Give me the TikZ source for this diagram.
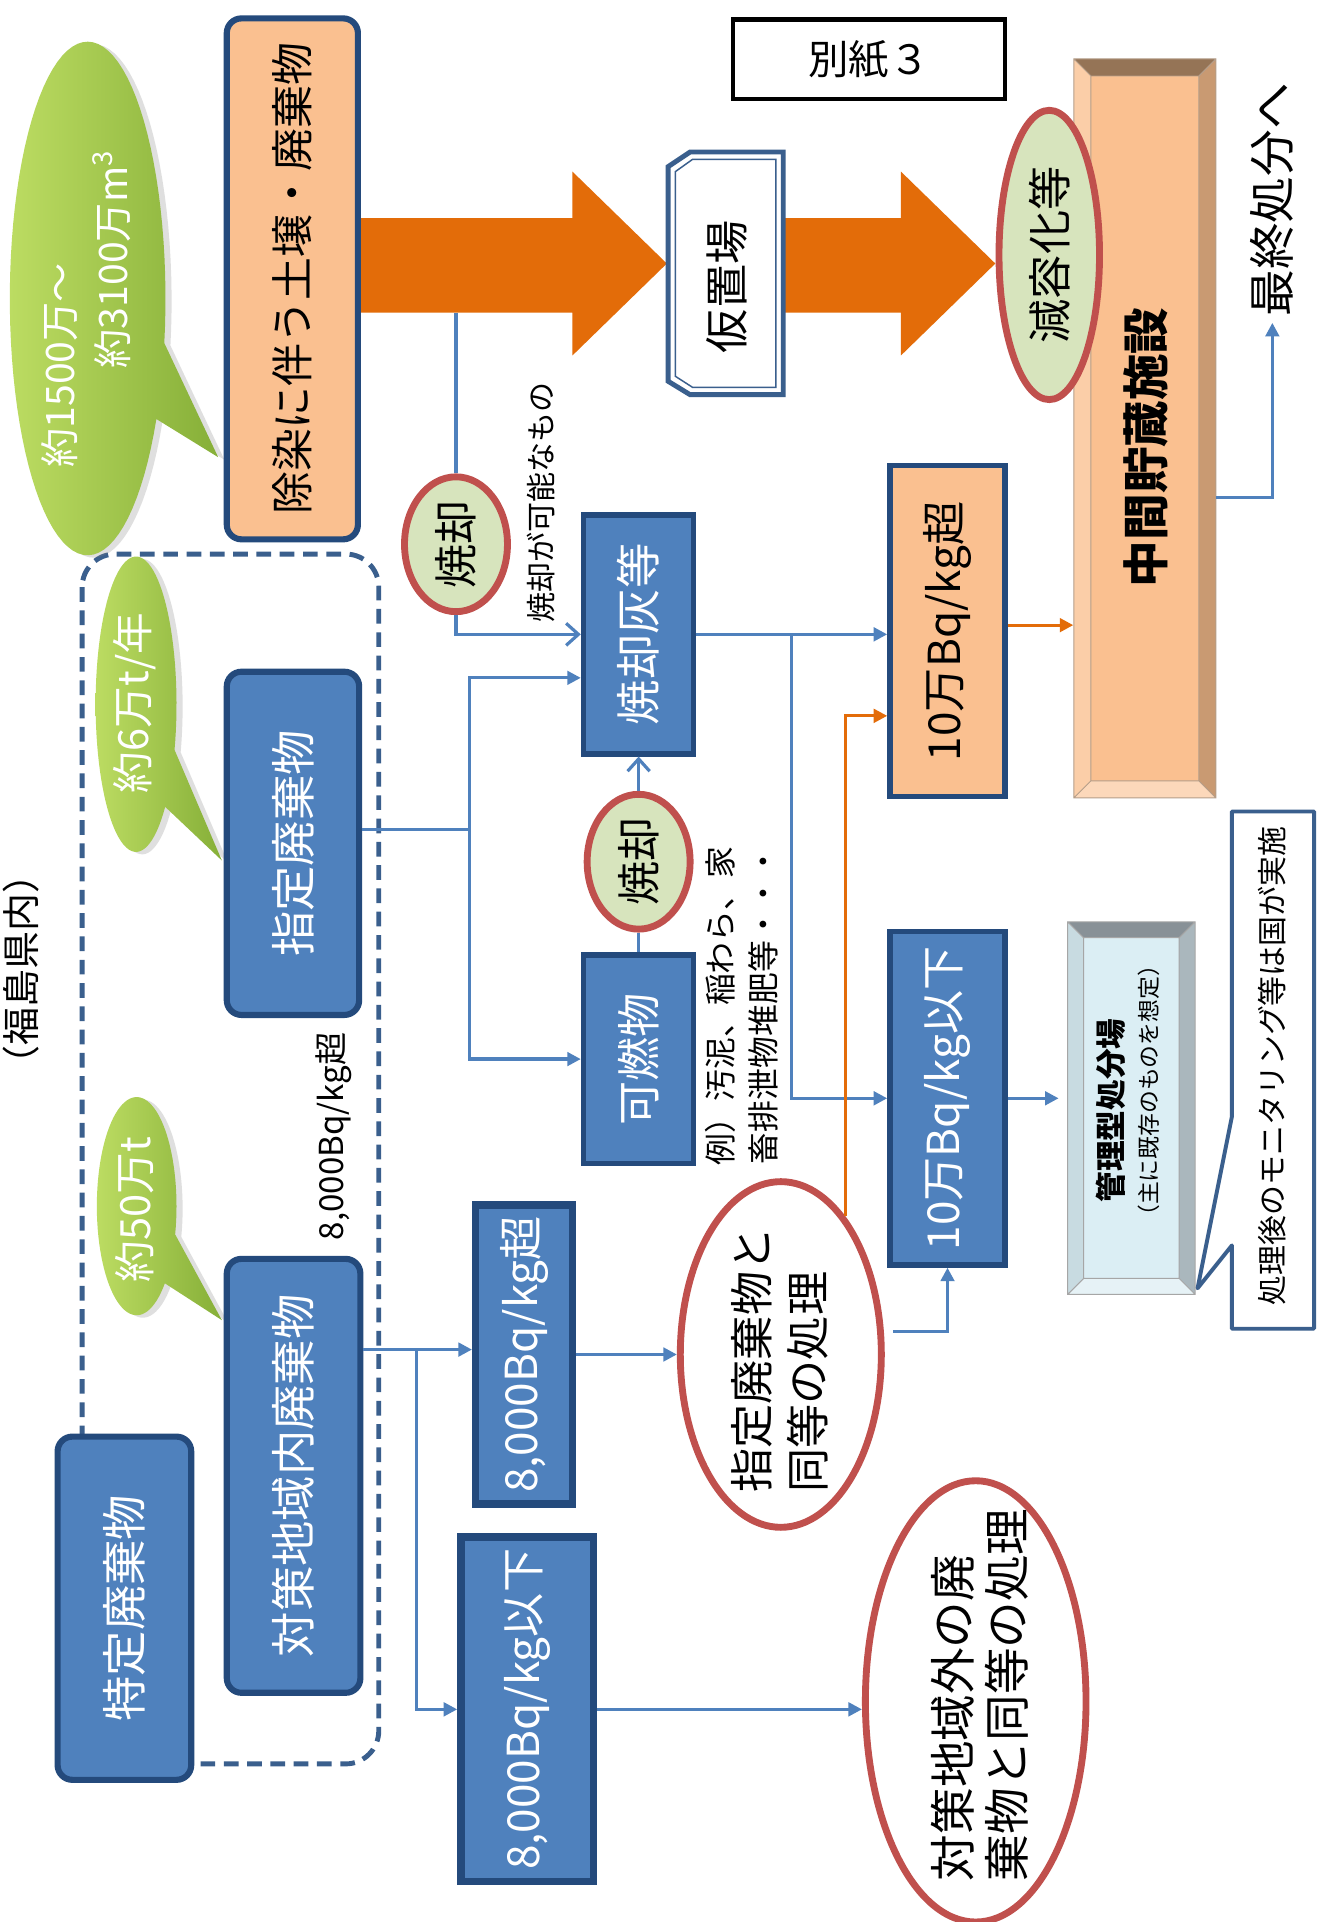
\documentclass[tikz,border=0pt]{standalone}
\usepackage{fontspec}
\setmainfont{Noto Sans CJK JP}
\usepackage{graphicx}
\usetikzlibrary{arrows.meta,shadows,shapes.geometric}
\definecolor{boxblue}{HTML}{4F81BD}
\definecolor{darkblue}{HTML}{244A7C}
\definecolor{peach}{HTML}{FAC090}
\definecolor{orangeA}{HTML}{E36C09}
\definecolor{redline}{HTML}{C0504D}
\definecolor{palegreen}{HTML}{D7E4BD}
\definecolor{dashblue}{HTML}{3A5F8D}
\definecolor{lineblue}{HTML}{4F81BD}
\definecolor{greenL}{HTML}{BCDC62}
\definecolor{greenD}{HTML}{86AF38}
\definecolor{bevtop}{HTML}{957456}
\definecolor{bevleft}{HTML}{FBCEA8}
\definecolor{bevright}{HTML}{C99A72}
\definecolor{bevbot}{HTML}{FCD8BA}
\definecolor{kface}{HTML}{DBEEF4}
\definecolor{ktop}{HTML}{889197}
\definecolor{kleft}{HTML}{C8DBE1}
\definecolor{kright}{HTML}{AAB7BD}
\definecolor{kbot}{HTML}{E6F2F6}
\newcommand{\rtext}[1]{\rotatebox{90}{#1}}
\newcommand{\fsz}[1]{\fontsize{#1pt}{#1pt}\selectfont}
\begin{document}
\begin{tikzpicture}[x=0.5pt,y=-0.5pt,
  rbox/.style={draw=darkblue, line width=2.5pt, rounded corners=6pt, fill=boxblue, text=white, inner sep=0pt},
  sbox/.style={draw=darkblue, line width=2.2pt, fill=boxblue, text=white, inner sep=0pt},
  redell/.style={ellipse, draw=redline, line width=2.8pt, inner sep=0pt},
  txt/.style={inner sep=0pt},
  conn/.style={draw=lineblue, line width=1.3pt},
  oconn/.style={draw=orangeA, line width=1.3pt},
  tri/.style={-{Triangle[length=5.5pt,width=5.5pt]}},
  barb/.style={-{Straight Barb[length=5pt,width=9pt]}},
  callout/.style={left color=greenL, right color=greenD, draw=none,
     drop shadow={opacity=0.25, shadow xshift=2.5pt, shadow yshift=-1pt}},
  ghost/.style={draw=none, fill=none, inner sep=0pt}
]
\useasboundingbox (0,0) rectangle (1074,1568);
\fill[white] (0,0) rectangle (1074,1568);

% dashed area
\draw[draw=dashblue, line width=2pt, dash pattern=on 6pt off 3.5pt, rounded corners=13.5pt] (67,452) rectangle (309,1439);

% green callouts
\path[callout] (178,373) -- plot[domain=10:-332, samples=90] ({71.5+63.5*cos(\x)},{243.5+209.5*sin(\x)}) -- cycle;
\path[callout] (181,702) -- plot[domain=18:-316, samples=90] ({111+33*cos(\x)},{574.5+120.5*sin(\x)}) -- cycle;
\path[callout] (181,1077) -- plot[domain=15:-315, samples=90] ({111.5+32.5*cos(\x)},{984+89*sin(\x)}) -- cycle;
\node[txt, anchor=south, text=white] (c1a) at (49,382) {\fsz{16}\rtext{約1500万～}};
\node[txt, anchor=south, text=white] (c1b) at (91,301) {\fsz{16}\rtext{約3100万m\textsuperscript{3}}};
\node[txt, text=white] (c2) at (110,573.5) {\fsz{17}\rtext{約6万t/年}};
\node[txt, text=white] (c3) at (110,987) {\fsz{17}\rtext{約50万t}};

% orange big arrows
\fill[orangeA] (292,178) -- (467,178) -- (467,140) -- (544,215) -- (467,290) -- (467,255) -- (292,255) -- cycle;
\fill[orangeA] (638,178) -- (735,178) -- (735,140) -- (812,215) -- (735,290) -- (735,255) -- (638,255) -- cycle;

% temporary storage (snipped box)
\draw[draw=dashblue, line width=2pt, fill=white] (563,124) -- (639,124) -- (639,322) -- (563,322) -- (545,311) -- (545,136) -- cycle;
\draw[draw=dashblue, line width=0.6pt] (565,130) -- (633,130) -- (633,316) -- (565,316) -- (551,307) -- (551,140) -- cycle;
\node[ghost, minimum width=47pt, minimum height=99pt] (kari) at (592,223) {};
\node[txt] (kariT) at (593,234) {\fsz{18}\rtext{仮置場}};

% interim storage facility (bevel)
\node[ghost, minimum width=58pt, minimum height=301.5pt] (chukan) at (934,349.5) {};
\fill[peach] (890,62) rectangle (978,637);
\fill[bevtop] (876,48) -- (992,48) -- (978,62) -- (890,62) -- cycle;
\fill[bevleft] (876,48) -- (890,62) -- (890,637) -- (876,651) -- cycle;
\fill[bevright] (992,48) -- (992,651) -- (978,637) -- (978,62) -- cycle;
\fill[bevbot] (876,651) -- (992,651) -- (978,637) -- (890,637) -- cycle;
\draw[draw=bevtop!70, line width=0.4pt] (876,48) rectangle (992,651) (890,62) rectangle (978,637)
  (876,48) -- (890,62) (992,48) -- (978,62) (876,651) -- (890,637) (992,651) -- (978,637);
\node[txt] (chukanT) at (935,365) {\fsz{19}\bfseries\rtext{中間貯蔵施設}};

% managed disposal site (bevel)
\node[ghost, minimum width=52pt, minimum height=152pt] (kanri) at (923,904) {};
\fill[kface] (884,765) rectangle (962,1043);
\fill[ktop] (871,752) -- (975,752) -- (962,765) -- (884,765) -- cycle;
\fill[kleft] (871,752) -- (884,765) -- (884,1043) -- (871,1056) -- cycle;
\fill[kright] (975,752) -- (975,1056) -- (962,1043) -- (962,765) -- cycle;
\fill[kbot] (871,1056) -- (975,1056) -- (962,1043) -- (884,1043) -- cycle;
\draw[draw=gray!70, line width=0.4pt] (871,752) rectangle (975,1056) (884,765) rectangle (962,1043)
  (871,752) -- (884,765) (975,752) -- (962,765) (871,1056) -- (884,1043) (975,1056) -- (962,1043);
\node[txt] (kanriT1) at (906,906) {\fsz{12.5}\bfseries\rtext{管理型処分場}};
\node[txt] (kanriT2) at (937,890) {\fsz{9.3}\rtext{（主に既存のものを想定）}};

% monitoring callout
\draw[draw=dashblue, line width=1.6pt, fill=white, line join=round] (1005,662) -- (1072,662) -- (1072,1084) -- (1005,1084) -- (1005,1016) -- (977,1051) -- (1005,911) -- cycle;
\node[txt] (monT) at (1038,869.5) {\fsz{12.2}\rtext{処理後のモニタリング等は国が実施}};

% label box
\node[draw=black, line width=1.75pt, minimum width=111pt, minimum height=32.5pt, inner sep=0pt] (betsushi) at (709,48.5) {\fsz{16.5}別紙３};

% main boxes
\node[rbox, fill=peach, text=black, minimum width=53.5pt, minimum height=212.5pt] (jojo) at (238.5,227.5) {\fsz{17.5}\rtext{除染に伴う土壌・廃棄物}};
\node[rbox, minimum width=54pt, minimum height=140pt] (shitei) at (239,688) {\fsz{18.5}\rtext{指定廃棄物}};
\node[rbox, minimum width=54.5pt, minimum height=177pt] (taisaku) at (239.5,1204) {\fsz{18.5}\rtext{対策地域内廃棄物}};
\node[rbox, minimum width=54.5pt, minimum height=140pt] (tokutei) at (101.5,1312) {\fsz{18.5}\rtext{特定廃棄物}};
\node[sbox, minimum width=45pt, minimum height=97.5pt] (hai) at (521,517.5) {\fsz{18.5}\rtext{焼却灰等}};
\node[sbox, minimum width=45pt, minimum height=85pt] (kanen) at (521,864) {\fsz{18}\rtext{可燃物}};
\node[sbox, line width=3pt, minimum width=39.5pt, minimum height=122pt] (b8o) at (427.5,1105) {\fsz{18}\rtext{8,000Bq/kg超}};
\node[sbox, line width=3pt, minimum width=54pt, minimum height=140.5pt] (b8u) at (430,1394.5) {\fsz{18}\rtext{8,000Bq/kg以下}};
\node[sbox, fill=peach, text=black, minimum width=47pt, minimum height=135pt] (b10o) at (773,515) {\fsz{18}\rtext{10万Bq/kg超}};
\node[sbox, minimum width=47pt, minimum height=136pt] (b10u) at (773,896) {\fsz{18}\rtext{10万Bq/kg以下}};

% ellipses
\node[redell, fill=palegreen, minimum width=41pt, minimum height=118pt] (genyou) at (856,208) {\fsz{18}\rtext{減容化等}};
\node[redell, fill=palegreen, minimum width=42pt, minimum height=55pt] (sh1) at (372,444) {\fsz{18}\rtext{焼却}};
\node[redell, fill=palegreen, minimum width=42pt, minimum height=55pt] (sh2) at (521,703) {\fsz{18}\rtext{焼却}};
\node[redell, fill=white, minimum width=82pt, minimum height=141pt] (shiteido) at (637,1105) {};
\node[txt, anchor=south] (sd1) at (613,1218) {\fsz{18}\rtext{指定廃棄物と}};
\node[txt, anchor=south] (sd2) at (659,1218) {\fsz{18}\rtext{同等の処理}};
\node[redell, fill=white, minimum width=90pt, minimum height=180pt] (gaibu) at (796,1388) {};
\node[txt, anchor=south] (gb1) at (777,1535) {\fsz{19}\rtext{対策地域外の廃}};
\node[txt, anchor=south] (gb2) at (821,1535) {\fsz{19}\rtext{棄物と同等の処理}};

% free texts
\node[txt] (saishu) at (1038,163) {\fsz{19}\rtext{最終処分へ}};
\node[txt] (fuku) at (17,791) {\fsz{15.5}\rtext{（福島県内）}};
\node[txt] (lbl8k) at (272,927) {\fsz{13.5}\rtext{8,000Bq/kg超}};
\node[txt] (kanou) at (441,410) {\fsz{12.25}\rtext{焼却が可能なもの}};
\node[txt, anchor=south] (rei1) at (588,951) {\fsz{13}\rtext{例）汚泥、稲わら、家}};
\node[txt, anchor=south] (rei2) at (623,950) {\fsz{13}\rtext{畜排泄物堆肥等・・・}};

% connectors
\coordinate (tap) at (372,255);
\draw[conn] (tap) -- (sh1.north);
\draw[conn, barb] (sh1.south) |- (hai.west);
\coordinate (j1) at (383,677);
\draw[conn] ([yshift=5.5pt]shitei.east) -- (j1);
\draw[conn, tri] (j1) |- ([yshift=-17.75pt]hai.west);
\draw[conn, tri] (j1) |- (kanen.west);
\draw[conn] (kanen.north) -- (sh2.south);
\draw[conn, barb] (sh2.north) -- (hai.south);
\draw[conn, tri] (hai.east) -- (hai.east -| b10o.west);
\coordinate (j2) at (646,517.5);
\draw[conn, tri] (j2) |- (b10u.west);
\coordinate (o1) at ([yshift=2.5pt]b10o.east);
\draw[oconn, tri] (o1) -- (o1 -| chukan.west);
\coordinate (c8) at ([yshift=-28.25pt]chukan.east);
\draw[conn, tri, shorten >=2.5pt] (c8) -| (saishu.south);
\coordinate (t1) at ([yshift=51.5pt]taisaku.east);
\draw[conn, tri] (t1) -- (t1 -| b8o.west);
\coordinate (j3) at (340,1101);
\draw[conn, tri] (j3) |- (b8u.west);
\draw[conn, tri] (b8o.east) -- (shiteido.west);
\draw[conn, tri] (b8u.east) -- (b8u.east -| gaibu.west);
\coordinate (s1) at ([xshift=3.5pt,yshift=9.5pt]shiteido.east);
\draw[conn, tri] (s1) -| (b10u.south);
\draw[oconn, tri] (shiteido.65) |- ([yshift=-34.5pt]b10o.west);
\draw[conn, tri, shorten >=3.5pt] (b10u.east) -- (b10u.east -| kanri.west);
\end{tikzpicture}
\end{document}
